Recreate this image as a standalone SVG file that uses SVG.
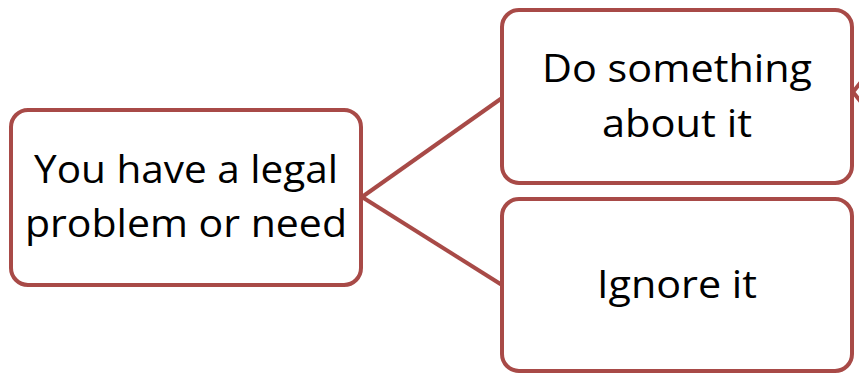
<svg xmlns="http://www.w3.org/2000/svg" width="859" height="373" viewBox="0 0 859 373">
<style>
.box{fill:#fff;stroke:#A84A47;stroke-width:4}
.lbl{font-family:"Open Sans","Liberation Sans",sans-serif;font-size:39px;fill:#000;text-anchor:middle}
.con{stroke:#A84A47;stroke-width:4;fill:none}
</style>
<rect width="859" height="373" fill="#fff"/>
<g id="connectors">
<line class="con" x1="362" y1="197" x2="502" y2="98"/>
<line class="con" x1="362" y1="197" x2="502" y2="285"/>
<polyline class="con" points="861,82 853,92 861,102"/>
</g>
<g id="node-problem">
<rect class="box" x="11" y="110" width="350" height="175" rx="17"/>
<text class="lbl" x="186" y="183" textLength="304" lengthAdjust="spacingAndGlyphs">You have a legal</text>
<text class="lbl" x="186" y="237" textLength="322" lengthAdjust="spacingAndGlyphs">problem or need</text>
</g>
<g id="node-do">
<rect class="box" x="502" y="10" width="350" height="173" rx="17"/>
<text class="lbl" x="677" y="82" textLength="270" lengthAdjust="spacingAndGlyphs">Do something</text>
<text class="lbl" x="677" y="137" textLength="150" lengthAdjust="spacingAndGlyphs">about it</text>
</g>
<g id="node-ignore">
<rect class="box" x="502" y="199" width="350" height="172" rx="17"/>
<text class="lbl" x="677" y="298" textLength="160" lengthAdjust="spacingAndGlyphs">Ignore it</text>
</g>
</svg>
